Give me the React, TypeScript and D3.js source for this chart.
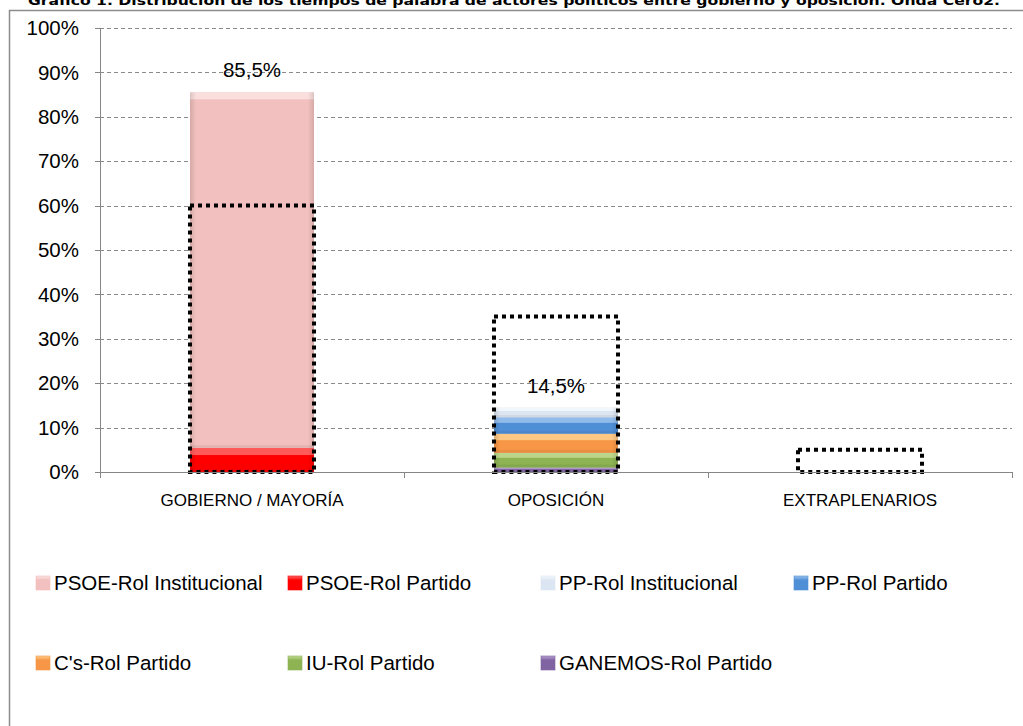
import React from "react";
import * as d3 from "d3";

const categories = ["GOBIERNO / MAYORÍA", "OPOSICIÓN", "EXTRAPLENARIOS"];

// porcentaje de tiempo de palabra por categoría
const psoeInstitucional = [80.1, 0, 0];
const psoePartido = [5.4, 0, 0];
const ppInstitucional = [0, 2.2, 0];
const ppPartido = [0, 3.7, 0];
const csPartido = [0, 4.3, 0];
const iuPartido = [0, 3.3, 0];
const ganemosPartido = [0, 1.0, 0];

// recuadros punteados (referencia)
const referencia = [60, 35, 5];

const yTicks = [0, 10, 20, 30, 40, 50, 60, 70, 80, 90, 100];

const title =
  "Gráfico 1. Distribución de los tiempos de palabra de actores políticos entre gobierno y oposición. Onda Cero2.";

type Serie = { key: string; label: string; values: number[]; color: string; light: string };

const series: Serie[] = [
  { key: "psoeInst", label: "PSOE-Rol Institucional", values: psoeInstitucional, color: "#f2c0be", light: "#fbe4e3" },
  { key: "psoePart", label: "PSOE-Rol Partido", values: psoePartido, color: "#ff0000", light: "#ff6a6a" },
  { key: "ppInst", label: "PP-Rol Institucional", values: ppInstitucional, color: "#dce6f2", light: "#f6f9fd" },
  { key: "ppPart", label: "PP-Rol Partido", values: ppPartido, color: "#4f8fd6", light: "#9cc3ee" },
  { key: "cs", label: "C's-Rol Partido", values: csPartido, color: "#f79646", light: "#fcd08e" },
  { key: "iu", label: "IU-Rol Partido", values: iuPartido, color: "#8db353", light: "#c3dc95" },
  { key: "ganemos", label: "GANEMOS-Rol Partido", values: ganemosPartido, color: "#8064a2", light: "#b7a2d2" },
];

// orden de apilado (de abajo arriba)
const stackOrder = ["psoePart", "psoeInst", "ganemos", "iu", "cs", "ppPart", "ppInst"];

const font = "'Liberation Sans', Arial, sans-serif";

export default function App() {
  const width = 1023;
  const height = 726;
  const margin = { left: 100, right: 11, top: 28, bottom: 254 };

  const x = d3.scaleBand<string>().domain(categories).range([margin.left, width - margin.right]).padding(0);
  const y = d3.scaleLinear().domain([0, 100]).range([height - margin.bottom, margin.top]);
  const barW = x.bandwidth() * 0.408;

  const rows = categories.map((c, i) => {
    const r: Record<string, any> = { cat: c };
    series.forEach((s) => (r[s.key] = s.values[i]));
    return r;
  });
  const stacked = d3.stack<Record<string, any>>().keys(stackOrder)(rows);
  const byKey = new Map(series.map((s) => [s.key, s]));

  const totals = categories.map((_, i) => d3.sum(series, (s) => s.values[i]));
  const fmt = (v: number) => d3.format(".1f")(v).replace(".", ",") + "%";

  const legendCols = [36, 288, 541, 794];
  const legendRows = [583, 663];

  const y0 = y(0);

  return (
    <svg width={width} height={height} style={{ position: "absolute", left: 0, top: 0, background: "#fff" }}>
      <defs>
        {series.map((s) => (
          <linearGradient key={s.key} id={`g-${s.key}`} x1="0" y1="0" x2="0" y2="1">
            <stop offset="0" stopColor={s.light} />
            <stop offset="0.3" stopColor={s.color} />
            <stop offset="1" stopColor={s.color} />
          </linearGradient>
        ))}
        <linearGradient id="edge" x1="0" y1="0" x2="1" y2="0">
          <stop offset="0" stopColor="#000" stopOpacity={0.12} />
          <stop offset="0.05" stopColor="#000" stopOpacity={0} />
          <stop offset="0.95" stopColor="#000" stopOpacity={0} />
          <stop offset="1" stopColor="#000" stopOpacity={0.12} />
        </linearGradient>
      </defs>

      <text x={28} y={5} fontFamily="'DejaVu Sans', Verdana, sans-serif" fontWeight="bold" fontSize={13}
        textLength={972} lengthAdjust="spacingAndGlyphs">
        {title}
      </text>

      {/* marco */}
      <rect x={9.5} y={10.5} width={1040} height={760} fill="none" stroke="#8c8c8c" strokeWidth={1.5} />

      {/* rejilla */}
      {yTicks.filter((t) => t > 0).map((t) => (
        <line key={t} x1={margin.left} x2={width - margin.right} y1={Math.round(y(t)) + 0.5} y2={Math.round(y(t)) + 0.5}
          stroke="#8a8a8a" strokeDasharray="4,3" />
      ))}

      {/* barras */}
      {stacked.map((layer) => {
        const s = byKey.get(layer.key)!;
        return layer.map((d, i) => {
          const h = y(d[0]) - y(d[1]);
          if (h <= 0) return null;
          const bx = x(categories[i])! + (x.bandwidth() - barW) / 2;
          const top = y(d[1]);
          const hl = Math.min(7, h / 3);
          return (
            <g key={layer.key + i}>
              <rect x={bx} y={top} width={barW} height={h} fill={s.color} />
              <rect x={bx} y={top} width={barW} height={hl} fill={s.light} opacity={0.85} />
              <rect x={bx} y={top + h - Math.min(3, h / 4)} width={barW} height={Math.min(3, h / 4)} fill="#000" opacity={0.06} />
              <rect x={bx} y={top} width={barW} height={h} fill="url(#edge)" />
            </g>
          );
        });
      })}

      {/* recuadros punteados */}
      {referencia.map((v, i) => {
        const bx = x(categories[i])! + (x.bandwidth() - barW) / 2;
        return (
          <rect key={i} x={bx} y={y(v)} width={barW} height={y0 - y(v)} fill="none" stroke="#000"
            strokeWidth={4} strokeDasharray="4,4" />
        );
      })}

      {/* ejes */}
      <line x1={margin.left + 0.5} x2={margin.left + 0.5} y1={y(100)} y2={y0} stroke="#868686" />
      {yTicks.map((t) => (
        <g key={t}>
          <line x1={margin.left - 5} x2={margin.left} y1={Math.round(y(t)) + 0.5} y2={Math.round(y(t)) + 0.5} stroke="#868686" />
          <text x={margin.left - 21} y={y(t)} dy="0.35em" textAnchor="end" fontFamily={font} fontSize={20.5} fill="#000">
            {t}%
          </text>
        </g>
      ))}
      <line x1={margin.left} x2={width - margin.right} y1={Math.round(y0) + 0.5} y2={Math.round(y0) + 0.5} stroke="#868686" />
      {categories.map((c) => (
        <g key={c}>
          <line x1={x(c)! + 0.5} x2={x(c)! + 0.5} y1={y0} y2={y0 + 6} stroke="#868686" />
          <text x={x(c)! + x.bandwidth() / 2} y={y0 + 34} textAnchor="middle" fontFamily={font} fontSize={17} fill="#000">
            {c}
          </text>
        </g>
      ))}
      <line x1={width - margin.right + 0.5} x2={width - margin.right + 0.5} y1={y0} y2={y0 + 6} stroke="#868686" />

      {/* totales */}
      {totals.map((t, i) =>
        t > 0 ? (
          <text key={i} x={x(categories[i])! + x.bandwidth() / 2} y={y(t) - 15} textAnchor="middle"
            fontFamily={font} fontSize={20.5} fill="#000">
            {fmt(t)}
          </text>
        ) : null
      )}

      {/* leyenda */}
      {series.map((s, i) => {
        const lx = legendCols[i < 4 ? i : i - 4];
        const ly = legendRows[i < 4 ? 0 : 1];
        return (
          <g key={s.key}>
            <rect x={lx} y={ly - 7} width={14} height={14} fill={`url(#g-${s.key})`} stroke={s.color} strokeOpacity={0.6} />
            <text x={lx + 18} y={ly} dy="0.35em" fontFamily={font} fontSize={20.5} fill="#000">
              {s.label}
            </text>
          </g>
        );
      })}
    </svg>
  );
}
